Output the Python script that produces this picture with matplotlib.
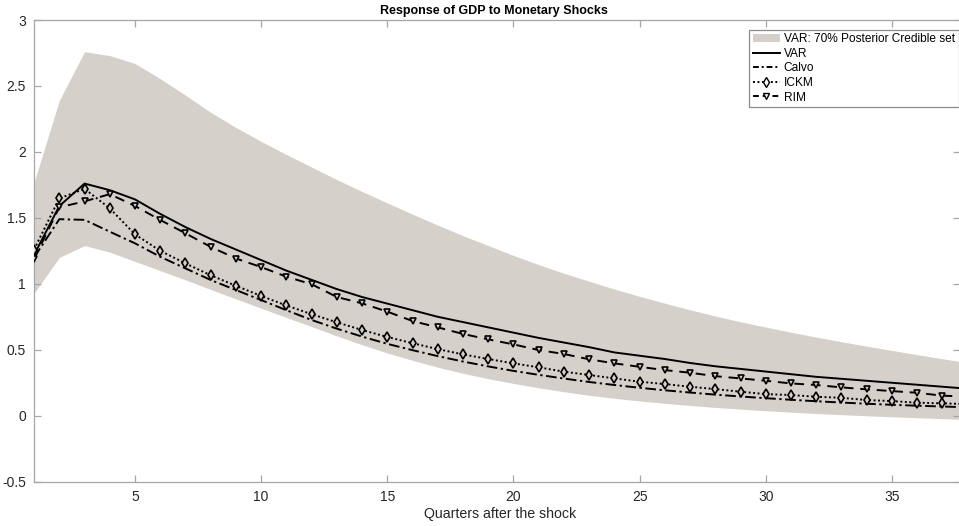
import matplotlib
matplotlib.use("Agg")
import matplotlib.pyplot as plt
from matplotlib.patches import Patch
from matplotlib.lines import Line2D

plt.rcParams['font.family'] = ['Liberation Sans', 'DejaVu Sans']

quarters = list(range(1, 39))

band_upper = [1.77, 2.39, 2.76, 2.73, 2.67, 2.555, 2.43, 2.30, 2.185, 2.08,
              1.98, 1.885, 1.79, 1.70, 1.613, 1.528, 1.445, 1.365, 1.29, 1.215,
              1.145, 1.08, 1.02, 0.96, 0.905, 0.853, 0.803, 0.756, 0.712, 0.672,
              0.633, 0.596, 0.561, 0.527, 0.495, 0.463, 0.432, 0.402]
band_lower = [0.93, 1.20, 1.29, 1.24, 1.17, 1.10, 1.03, 0.957, 0.886, 0.815,
              0.745, 0.676, 0.605, 0.538, 0.476, 0.42, 0.368, 0.322, 0.281, 0.245,
              0.212, 0.182, 0.155, 0.132, 0.112, 0.094, 0.078, 0.063, 0.05, 0.038,
              0.027, 0.017, 0.008, 0.0, -0.008, -0.015, -0.022, -0.028]
var_irf = [1.22, 1.59, 1.76, 1.71, 1.64, 1.53, 1.43, 1.34, 1.26, 1.18,
           1.10, 1.03, 0.96, 0.90, 0.85, 0.80, 0.75, 0.71, 0.67, 0.63,
           0.59, 0.555, 0.52, 0.48, 0.455, 0.43, 0.40, 0.375, 0.355, 0.335,
           0.315, 0.295, 0.28, 0.265, 0.25, 0.235, 0.22, 0.205]
calvo_irf = [1.20, 1.49, 1.485, 1.395, 1.307, 1.205, 1.117, 1.029, 0.953, 0.877,
             0.80, 0.726, 0.66, 0.60, 0.545, 0.497, 0.452, 0.411, 0.374, 0.34,
             0.31, 0.282, 0.256, 0.233, 0.212, 0.193, 0.176, 0.16, 0.146, 0.133,
             0.121, 0.11, 0.10, 0.091, 0.083, 0.076, 0.07, 0.064]
ickm_irf = [1.26, 1.648, 1.72, 1.572, 1.375, 1.25, 1.155, 1.065, 0.985, 0.908,
            0.836, 0.77, 0.708, 0.65, 0.597, 0.55, 0.505, 0.465, 0.43, 0.397,
            0.367, 0.334, 0.309, 0.283, 0.258, 0.24, 0.22, 0.202, 0.182, 0.164,
            0.157, 0.144, 0.136, 0.119, 0.111, 0.099, 0.094, 0.088]
rim_irf = [1.19, 1.58, 1.625, 1.68, 1.59, 1.484, 1.383, 1.28, 1.192, 1.127,
           1.054, 0.997, 0.90, 0.852, 0.789, 0.718, 0.67, 0.62, 0.579, 0.541,
           0.498, 0.468, 0.428, 0.397, 0.371, 0.346, 0.326, 0.30, 0.283, 0.265,
           0.245, 0.233, 0.215, 0.20, 0.187, 0.174, 0.152, 0.145]

x_ticks = [5, 10, 15, 20, 25, 30, 35]
y_ticks = [-0.5, 0, 0.5, 1, 1.5, 2, 2.5, 3]
y_ticklabels = ['-0.5', '0', '0.5', '1', '1.5', '2', '2.5', '3']

W, H = 959, 526
fig = plt.figure(figsize=(W / 100, H / 100), dpi=100)
left_px, right_px, top_px, bottom_px = 34.1, 960.0, 20.0, 481.7
ax = fig.add_axes([left_px / W, 1 - bottom_px / H,
                   (right_px - left_px) / W, (bottom_px - top_px) / H])

band_color = '#d5d0c9'
ax.fill_between(quarters, band_lower, band_upper, color=band_color,
                linewidth=0, zorder=1)
ax.plot(quarters, var_irf, color='black', linestyle='-', linewidth=1.4, zorder=3)
ax.plot(quarters, calvo_irf, color='black', linestyle=(0, (5.5, 1.8, 1.2, 1.8)),
        linewidth=1.4, zorder=3)
ax.plot(quarters, ickm_irf, color='black', linestyle=(0, (1, 1.3)), linewidth=1.4,
        marker='d', markersize=4.6, markerfacecolor=band_color, markeredgewidth=1.2,
        markeredgecolor='black', zorder=4)
ax.plot(quarters, rim_irf, color='black', linestyle=(0, (5, 3.5)), linewidth=1.4,
        marker='v', markersize=4.5, markerfacecolor=band_color, markeredgewidth=1.2,
        markeredgecolor='black', zorder=4)

x_max = 1 + (right_px - left_px) / 25.23
ax.set_xlim(1, x_max)
ax.set_ylim(-0.5, 3)
ax.set_xticks(x_ticks)
ax.set_yticks(y_ticks)
ax.set_yticklabels(y_ticklabels)

spine_color = '#a6a6a6'
for s in ax.spines.values():
    s.set_color(spine_color)
    s.set_linewidth(0.9)
ax.tick_params(direction='in', length=5, width=0.9, color=spine_color,
               labelsize=10, labelcolor='#262626', top=True, right=True, pad=6)

ax.set_title('Response of GDP to Monetary Shocks', fontsize=9, fontweight='bold',
             pad=4, x=(494 - left_px) / (right_px - left_px))
ax.set_xlabel('Quarters after the shock', fontsize=10.2, color='#262626', labelpad=2,
              x=(500 - left_px) / (right_px - left_px))

handles = [
    Patch(facecolor=band_color, edgecolor='none', label='VAR: 70% Posterior Credible set'),
    Line2D([], [], color='black', linestyle='-', linewidth=1.4, label='VAR'),
    Line2D([], [], color='black', linestyle=(0, (3, 1.5, 1, 1.5)), linewidth=1.4, label='Calvo'),
    Line2D([], [], color='black', linestyle=(0, (1, 1.3)), linewidth=1.4, marker='d',
           markersize=4.6, markerfacecolor='white', markeredgecolor='black', label='ICKM'),
    Line2D([], [], color='black', linestyle=(0, (3, 2)), linewidth=1.4, marker='v',
           markersize=4.5, markerfacecolor='white', markeredgecolor='black', label='RIM'),
]
leg = fig.legend(handles=handles, loc='upper right',
                 bbox_to_anchor=(958.5 / W, 1 - 29.5 / H), fontsize=8.6,
                 frameon=True, fancybox=False, framealpha=1, edgecolor='#8c8c8c',
                 handlelength=2.3, handletextpad=0.3, labelspacing=0.22,
                 borderpad=0.3, borderaxespad=0)
leg.get_frame().set_linewidth(0.9)

fig.savefig('out.png', dpi=100)
